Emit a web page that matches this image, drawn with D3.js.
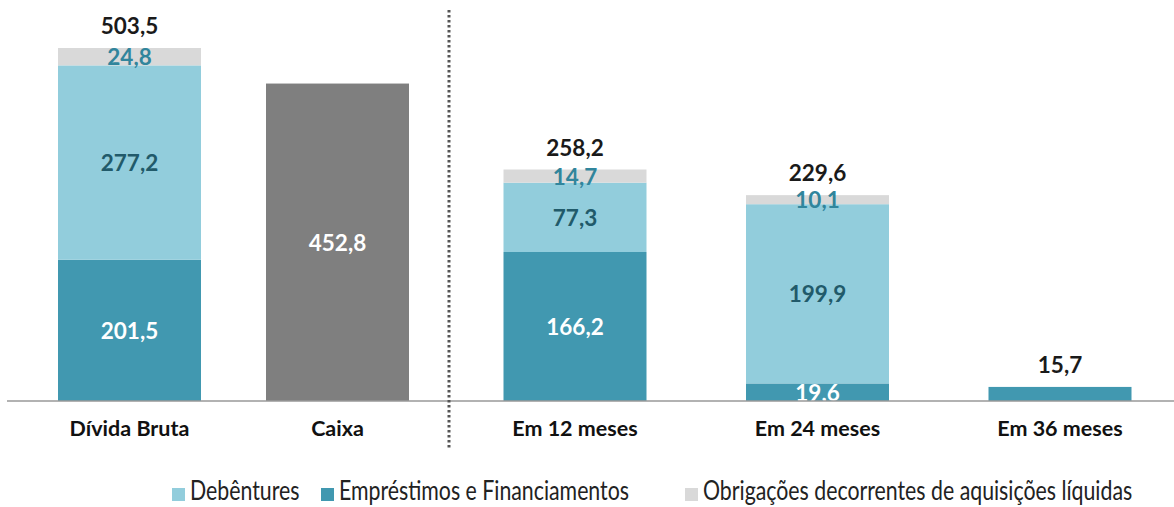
<!DOCTYPE html>
<html>
<head>
<meta charset="utf-8">
<script src="https://cdn.jsdelivr.net/npm/d3@7"></script>
<style>
  body { margin: 0; background: #fff; }
  svg { display: block; font-family: Lato, "Open Sans", sans-serif; }
</style>
</head>
<body>
<svg id="chart" width="1174" height="507"></svg>
<script>
// data
const leftCats = ['Dívida Bruta', 'Caixa']
const rightCats = ['Em 12 meses', 'Em 24 meses', 'Em 36 meses']
const categories = leftCats.concat(rightCats)
const emprestimos = [201.5, 0, 166.2, 19.6, 15.7]
const debentures = [277.2, 0, 77.3, 199.9, 0]
const obrigacoes = [24.8, 0, 14.7, 10.1, 0]
const caixa = [0, 452.8, 0, 0, 0]
const totals = [503.5, null, 258.2, 229.6, 15.7]
const legendLabels = ['Debêntures', 'Empréstimos e Financiamentos', 'Obrigações decorrentes de aquisições líquidas']

const lightBlue = '#92CDDC', teal = '#4198B0', grey = '#D9D9D9', dark = '#7F7F7F'
const ptBR = d3.formatLocale({ decimal: ',', thousands: '.', grouping: [3], currency: ['R$', ''] })
const fmt = ptBR.format('.1f')

const svg = d3.select('#chart')
const baseY = 401
const barW = 143

// two panels, each with its own scale
const xLeft = d3.scalePoint().domain(leftCats).range([129.5, 337.5])
const xRight = d3.scalePoint().domain(rightCats).range([575, 1060])
const yLeft = d3.scaleLinear().domain([0, 503.5]).range([baseY, 48])
const yRight = d3.scaleLinear().domain([0, 258.2]).range([baseY, 169.5])

const rows = categories.map((c, i) => {
    const left = i < leftCats.length
    return {
        cat: c,
        x: left ? xLeft(c) : xRight(c),
        y: left ? yLeft : yRight,
        segs: [
            { key: 'emp', v: emprestimos[i], fill: teal, text: '#fff' },
            { key: 'deb', v: debentures[i], fill: lightBlue, text: '#215A6A' },
            { key: 'obr', v: obrigacoes[i], fill: grey, text: '#31859C' },
            { key: 'cx', v: caixa[i], fill: dark, text: '#fff' }
        ],
        total: totals[i]
    }
})

// stack the segments
rows.forEach(r => {
    let acc = 0
    r.segs.forEach(s => { s.y0 = acc; acc += s.v; s.y1 = acc })
})

const g = svg.append('g')
rows.forEach(r => {
    const segs = r.segs.filter(s => s.v > 0)
    g.selectAll(null)
        .data(segs)
        .enter()
        .append('rect')
        .attr('x', r.x - barW / 2)
        .attr('width', barW)
        .attr('y', s => r.y(s.y1))
        .attr('height', s => r.y(s.y0) - r.y(s.y1))
        .style('fill', s => s.fill)

    // inner labels (the 36 meses bar only gets its total)
    if (r.cat !== 'Em 36 meses') {
        g.selectAll(null)
            .data(segs)
            .enter()
            .append('text')
            .attr('x', r.x)
            .attr('y', s => (r.y(s.y0) + r.y(s.y1)) / 2 + 8.5)
            .attr('text-anchor', 'middle')
            .style('font-size', '22.5px')
            .style('font-weight', 700)
            .style('fill', s => s.text)
            .text(s => fmt(s.v))
    }

    if (r.total != null) {
        g.append('text')
            .attr('x', r.x)
            .attr('y', r.y(r.total) - 14)
            .attr('text-anchor', 'middle')
            .style('font-size', '22.5px')
            .style('font-weight', 700)
            .style('fill', '#1a1a1a')
            .text(fmt(r.total))
    }
})

// baseline
svg.append('line')
    .attr('x1', 7).attr('x2', 1174)
    .attr('y1', baseY).attr('y2', baseY)
    .style('stroke', '#999').style('stroke-width', 1.5)

// divider between panels
svg.append('line')
    .attr('x1', 449).attr('x2', 449)
    .attr('y1', 10).attr('y2', 448)
    .style('stroke', '#555').style('stroke-width', 3)
    .style('stroke-dasharray', '2.5,2.5')

// category labels
svg.selectAll('text.cat')
    .data(rows)
    .enter()
    .append('text')
    .attr('class', 'cat')
    .attr('x', d => d.x)
    .attr('y', 436)
    .attr('text-anchor', 'middle')
    .style('font-size', '21.5px')
    .style('font-weight', 700)
    .style('fill', '#111')
    .text(d => d.cat)

// legend (tall, narrow type like the original)
const legendX = [172, 321, 685]
const legendFill = [lightBlue, teal, grey]
const lg = svg.selectAll('g.legend')
    .data(legendLabels)
    .enter()
    .append('g')
    .attr('class', 'legend')
    .attr('transform', (d, i) => `translate(${legendX[i]},500)`)
lg.append('rect')
    .attr('x', 0).attr('y', -12)
    .attr('width', 13).attr('height', 13)
    .style('fill', (d, i) => legendFill[i])
lg.append('text')
    .attr('transform', 'translate(18,0) scale(0.81,1)')
    .style('font-size', '26.3px')
    .style('fill', '#222')
    .text(d => d)
</script>
</body>
</html>
